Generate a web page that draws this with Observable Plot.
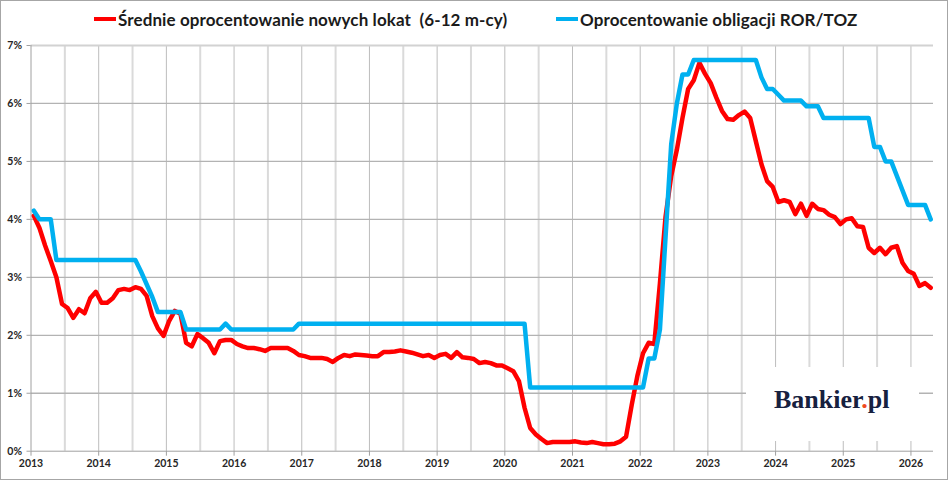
<!DOCTYPE html>
<html><head><meta charset="utf-8">
<script src="https://cdn.jsdelivr.net/npm/d3@7"></script>
<script src="https://cdn.jsdelivr.net/npm/@observablehq/plot@0.6"></script>
<style>
body{margin:0;background:#fff;font-family:Lato,sans-serif;}
#wrap{position:relative;width:946px;height:478px;border:1px solid #a6a6a6;overflow:hidden;background:#fff}
#legend{position:relative;height:36px;}
.item{position:absolute;top:0;height:36px;display:flex;align-items:center;font-weight:bold;font-size:17px;letter-spacing:0.1px;white-space:pre;color:#1b1b1b}
.sw{display:inline-block;width:22px;height:4px;margin-right:2px}
#logo{position:absolute;left:745px;top:366px;width:173px;height:74px;background:#fff;}
#logo span.t{position:absolute;left:28px;top:18px;font-family:"Liberation Serif",serif;font-weight:bold;font-size:26px;color:#17213f;white-space:nowrap}
#chart svg{display:block}
</style></head>
<body>
<div id="wrap">
  <div id="legend"></div>
  <div id="chart"></div>
  <div id="logo"><span class="t">Bankier<span style="color:#ee4a1e">.</span>pl</span></div>
</div>
<script>
const seriesNames = ["Średnie oprocentowanie nowych lokat  (6-12 m-cy)", "Oprocentowanie obligacji ROR/TOZ"];
const seriesColors = ["#ff0000", "#00b0f0"];
const startYear = 2013;
// monthly values, Jan 2013 .. Apr 2026
const deposits = [
  4.06,3.85,3.55,3.28,3.00,2.54,2.47,2.30,2.45,2.38,2.64,2.75,
  2.56,2.56,2.64,2.78,2.80,2.78,2.83,2.80,2.68,2.33,2.12,1.99,
  2.25,2.42,2.37,1.87,1.81,2.02,1.95,1.87,1.69,1.90,1.92,1.92,
  1.85,1.81,1.78,1.78,1.76,1.73,1.78,1.78,1.78,1.78,1.73,1.66,
  1.64,1.61,1.61,1.61,1.59,1.54,1.61,1.66,1.64,1.67,1.66,1.65,
  1.64,1.64,1.71,1.71,1.72,1.74,1.72,1.70,1.67,1.64,1.66,1.61,
  1.66,1.68,1.61,1.71,1.62,1.61,1.59,1.52,1.54,1.52,1.48,1.48,
  1.43,1.38,1.21,0.75,0.40,0.29,0.21,0.14,0.16,0.16,0.16,0.16,
  0.17,0.15,0.14,0.16,0.14,0.12,0.12,0.13,0.17,0.25,0.80,1.30,
  1.69,1.87,1.85,2.90,4.05,4.75,5.20,5.75,6.25,6.40,6.70,6.51,
  6.35,6.10,5.87,5.73,5.72,5.80,5.86,5.75,5.35,4.95,4.66,4.56,
  4.30,4.33,4.30,4.09,4.27,4.06,4.27,4.18,4.16,4.08,4.04,3.92,
  4.00,4.02,3.88,3.87,3.51,3.42,3.51,3.40,3.51,3.54,3.25,3.11,
  3.06,2.85,2.90,2.82
];
const bonds = [
  4.15,4.00,4.00,4.00,3.30,3.30,3.30,3.30,3.30,3.30,3.30,3.30,
  3.30,3.30,3.30,3.30,3.30,3.30,3.30,3.10,2.88,2.66,2.40,2.40,
  2.40,2.40,2.40,2.10,2.10,2.10,2.10,2.10,2.10,2.10,2.20,2.10,
  2.10,2.10,2.10,2.10,2.10,2.10,2.10,2.10,2.10,2.10,2.10,2.20,
  2.20,2.20,2.20,2.20,2.20,2.20,2.20,2.20,2.20,2.20,2.20,2.20,
  2.20,2.20,2.20,2.20,2.20,2.20,2.20,2.20,2.20,2.20,2.20,2.20,
  2.20,2.20,2.20,2.20,2.20,2.20,2.20,2.20,2.20,2.20,2.20,2.20,
  2.20,2.20,2.20,2.20,1.10,1.10,1.10,1.10,1.10,1.10,1.10,1.10,
  1.10,1.10,1.10,1.10,1.10,1.10,1.10,1.10,1.10,1.10,1.10,1.10,
  1.10,1.60,1.60,2.10,3.70,5.30,6.00,6.50,6.50,6.75,6.75,6.75,
  6.75,6.75,6.75,6.75,6.75,6.75,6.75,6.75,6.75,6.45,6.25,6.25,
  6.15,6.05,6.05,6.05,6.05,5.95,5.95,5.95,5.75,5.75,5.75,5.75,
  5.75,5.75,5.75,5.75,5.75,5.25,5.25,5.00,5.00,4.75,4.50,4.25,
  4.25,4.25,4.25,4.00
];
const yearTicks = [2013,2014,2015,2016,2017,2018,2019,2020,2021,2022,2023,2024,2025,2026];
const halfYears = [2013.5,2014.5,2015.5,2016.5,2017.5,2018.5,2019.5,2020.5,2021.5,2022.5,2023.5,2024.5,2025.5];
const yTicks = [0,1,2,3,4,5,6,7];

const data = deposits.map((v,i)=>({t: startYear + (i+0.5)/12, dep: v, bond: bonds[i]}));

// legend
const legend = document.getElementById("legend");
const legendLeft = [93, 555];
seriesNames.forEach((n,i)=>{
  const d = document.createElement("div");
  d.className = "item";
  d.style.left = legendLeft[i] + "px";
  d.innerHTML = `<span class="sw" style="background:${seriesColors[i]}"></span><span>${n}</span>`;
  legend.appendChild(d);
});

const chart = Plot.plot({
  width: 946, height: 442,
  marginLeft: 29.5, marginRight: 14, marginTop: 8, marginBottom: 28.3,
  style: {fontFamily: "Lato, sans-serif", background: "#fff", overflow: "visible"},
  x: {domain: [2013, 2026 + 4/12], label: null},
  y: {domain: [0, 7], label: null},
  marks: [
    Plot.ruleX(halfYears, {stroke: "#dadada", strokeWidth: 2}),
    Plot.ruleX(yearTicks.slice(1), {stroke: "#bdbdbd", strokeWidth: 1}),
    Plot.ruleY(yTicks.slice(1, 7), {stroke: "#b3b3b3", strokeWidth: 1.3}),
    Plot.ruleY([7], {stroke: "#d2d2d2", strokeWidth: 2}),
    Plot.ruleX([2013], {stroke: "#a0a0a0", strokeWidth: 1}),
    Plot.ruleY([0], {stroke: "#a0a0a0", strokeWidth: 1}),
    Plot.axisX({ticks: yearTicks, tickFormat: d => String(d), label: null, tickSize: 5, tickPadding: 3, stroke: "#a0a0a0", fill: "#262626", fontSize: 10.5, fontWeight: "bold"}),
    Plot.axisY({ticks: yTicks, tickFormat: d => d + "%", label: null, tickSize: 4, tickPadding: 5, stroke: "#a0a0a0", fill: "#262626", fontSize: 10.5, fontWeight: "bold"}),
    Plot.line(data, {x: "t", y: "dep", stroke: seriesColors[0], strokeWidth: 4.5, strokeLinejoin: "round", strokeLinecap: "round"}),
    Plot.line(data, {x: "t", y: "bond", stroke: seriesColors[1], strokeWidth: 4.5, strokeLinejoin: "round", strokeLinecap: "round"})
  ]
});
document.getElementById("chart").appendChild(chart);
</script>
</body></html>
